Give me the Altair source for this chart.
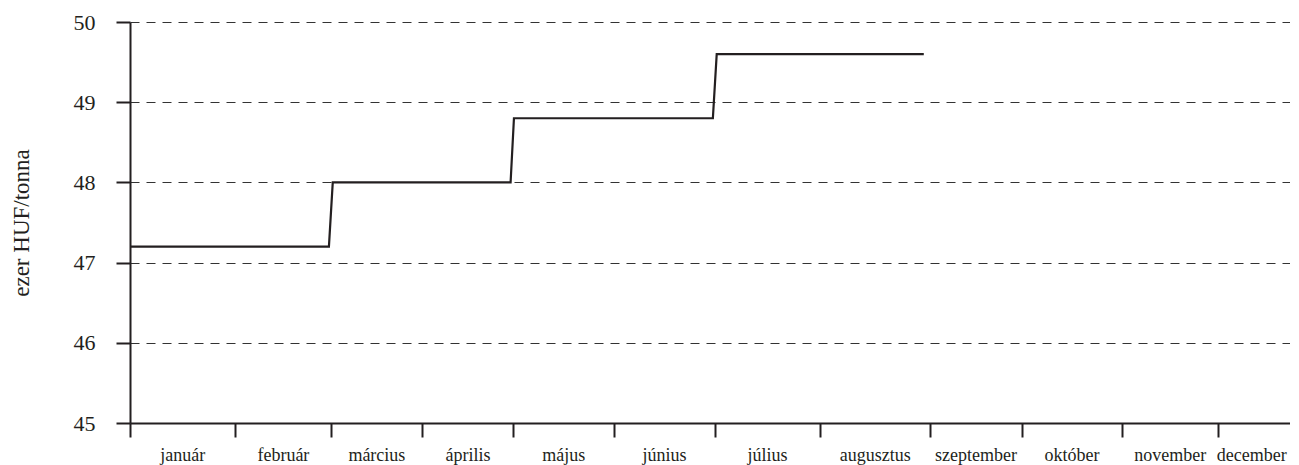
import altair as alt
import pandas as pd

# Step-line vertices (trading-day index, price in thousand HUF/tonne)
day = [0, 41.5, 42.3, 79.4, 80.1, 121.6, 122.4, 165.6]
price = [47.2, 47.2, 48.0, 48.0, 48.8, 48.8, 49.6, 49.6]

months = ["január", "február", "március", "április", "május", "június",
          "július", "augusztus", "szeptember", "október", "november", "december"]
month_start = [0, 22, 42, 61, 80, 101, 122, 144, 167, 186, 207, 227]
month_end = month_start[1:] + [241]
y_ticks = [45, 46, 47, 48, 49, 50]

W, H = 1160, 401
INK = "#231f20"
FONT = "Times New Roman, Liberation Serif, serif"

x_scale = alt.Scale(domain=[0, 242], nice=False, zero=False)
y_scale = alt.Scale(domain=[45, 50], nice=False, zero=False)

line_df = pd.DataFrame({"nap": day, "ar": price})
lab_df = pd.DataFrame({
    "honap": months,
    "kozep": [(a + b) / 2 for a, b in zip(month_start, month_end)],
})

line = alt.Chart(line_df).mark_line(color=INK, strokeWidth=2.2).encode(
    x=alt.X("nap:Q", scale=x_scale,
            axis=alt.Axis(values=month_start, labels=False, title=None, grid=False,
                          tickSize=14, tickWidth=2, tickColor=INK,
                          domainWidth=2, domainColor=INK)),
    y=alt.Y("ar:Q", scale=y_scale,
            axis=alt.Axis(values=y_ticks, title="ezer HUF/tonna", grid=True,
                          gridDash=[9, 7], gridColor="#333333", gridWidth=1,
                          tickSize=14, tickWidth=2, tickColor=INK,
                          domainWidth=2, domainColor=INK,
                          labelFont=FONT, labelFontSize=22, labelColor=INK,
                          labelPadding=21,
                          titleFont=FONT, titleFontSize=23, titleFontWeight="normal",
                          titleColor=INK, titlePadding=40)),
)

labels = alt.Chart(lab_df).mark_text(
    font=FONT, fontSize=18, baseline="alphabetic", align="center", color=INK
).encode(
    x=alt.X("kozep:Q", scale=x_scale),
    y=alt.value(439),
    text="honap:N",
)

chart = alt.layer(line, labels).properties(
    width=W, height=H,
    autosize=alt.AutoSizeParams(type="none"),
    padding={"left": 122, "top": 14, "right": 0, "bottom": 42},
).configure_view(stroke=None).configure_axis(
    labelFont=FONT, titleFont=FONT
).configure_text(font=FONT)

chart.save("out.html", embed_options={"renderer": "svg", "actions": False})
